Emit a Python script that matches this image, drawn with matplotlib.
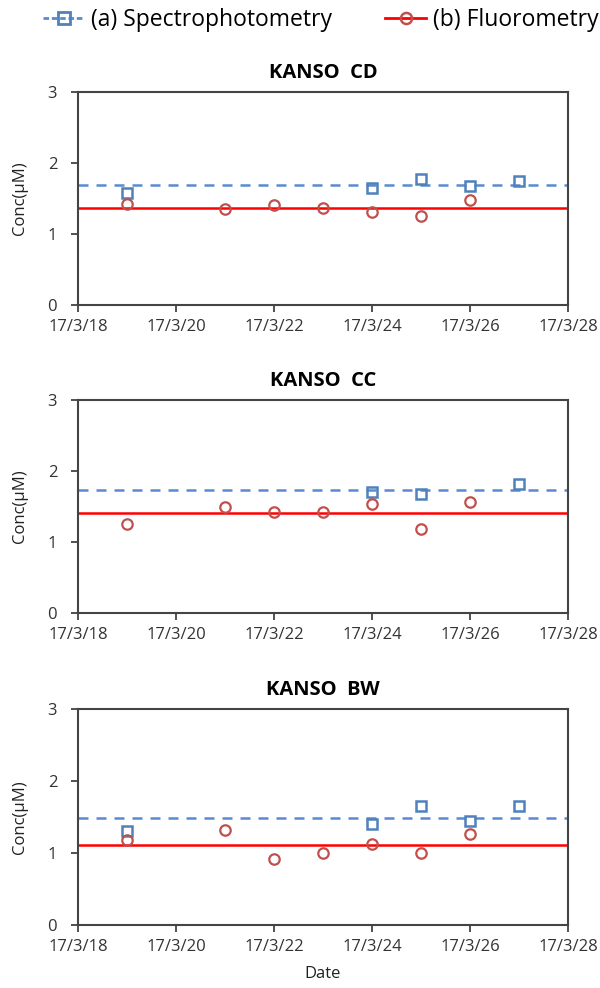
import numpy as np
import matplotlib.pyplot as plt
from matplotlib.lines import Line2D

plt.rcParams['font.family'] = ['Open Sans', 'DejaVu Sans']

stations = ["KANSO  CD", "KANSO  CC", "KANSO  BW"]

# days of March 2017
spec_days = [[19, 24, 25, 26, 27], [24, 25, 27], [19, 24, 25, 26, 27]]
spec_vals = [[1.58, 1.65, 1.78, 1.67, 1.75],
             [1.70, 1.68, 1.82],
             [1.31, 1.40, 1.65, 1.45, 1.65]]

fluo_days = [19, 21, 22, 23, 24, 25, 26]
fluo_vals = [[1.42, 1.35, 1.41, 1.37, 1.31, 1.25, 1.48],
             [1.25, 1.49, 1.42, 1.42, 1.54, 1.18, 1.56],
             [1.18, 1.32, 0.91, 1.00, 1.12, 1.00, 1.27]]

xticks = [18, 20, 22, 24, 26, 28]
xlabels = ["17/3/18", "17/3/20", "17/3/22", "17/3/24", "17/3/26", "17/3/28"]

blue = "#4F81BD"
blue_line = "#5A8AD0"
red = "#C0504D"

fig = plt.figure(figsize=(6, 9.88), dpi=100)
W, H = 600, 988
tops = [92, 400, 709]
bottoms = [305, 613, 925]

for i in range(3):
    ax = fig.add_axes([78 / W, 1 - bottoms[i] / H, 490 / W, (bottoms[i] - tops[i]) / H])
    ax.axhline(np.mean(spec_vals[i]), color=blue_line, lw=1.8, ls=(0, (4, 3.2)))
    ax.axhline(np.mean(fluo_vals[i]), color="#FF0000", lw=1.8)
    ax.plot(spec_days[i], spec_vals[i], ls="none", marker="s", ms=7.5, mfc="none",
            mec=blue, mew=1.8)
    ax.plot(fluo_days, fluo_vals[i], ls="none", marker="o", ms=7.5, mfc="none",
            mec=red, mew=1.6)
    ax.set_xlim(18, 28)
    ax.set_ylim(0, 3)
    ax.set_yticks([0, 1, 2, 3])
    ax.set_xticks(xticks)
    ax.set_xticklabels(xlabels)
    ax.tick_params(direction="out", length=5, width=1.2, color="#333333",
                   labelsize=12, labelcolor="#333333", pad=5)
    ax.tick_params(axis="y", pad=10)
    for s in ax.spines.values():
        s.set_color("#444444")
        s.set_linewidth(1.5)
    ax.set_title(stations[i], fontsize=14.5, fontweight="bold", pad=10)
    ax.set_ylabel("Conc(\u03bcM)", fontsize=12, labelpad=14, color="#222222")
    if i == 2:
        ax.set_xlabel("Date", fontsize=12, labelpad=8, color="#222222")

handles = [
    Line2D([], [], color=blue_line, ls=(0, (2, 1)), lw=2, marker="s", ms=8,
           mfc="none", mec=blue, mew=2),
    Line2D([], [], color="#FF0000", lw=2, marker="o", ms=8, mfc="none",
           mec=red, mew=1.8),
]
fig.legend(handles, ["(a) Spectrophotometry", "(b) Fluorometry"], loc="center",
           bbox_to_anchor=(0.535, 1 - 20 / H), ncol=2, frameon=False,
           fontsize=16.5, handlelength=1.8, handletextpad=0.3, columnspacing=2.3)

fig.savefig("out.png", dpi=100)
